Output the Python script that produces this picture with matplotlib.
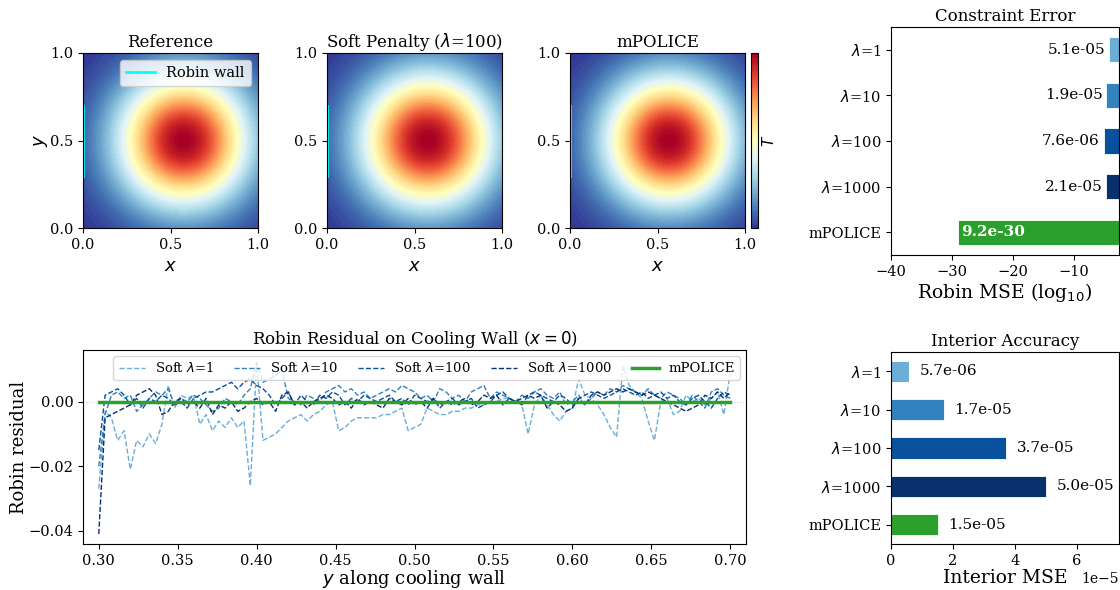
import numpy as np
import matplotlib
matplotlib.use("Agg")
import matplotlib.pyplot as plt

plt.rcParams['font.family'] = 'serif'

# --- data ---
methods = ['$\\lambda$=1', '$\\lambda$=10', '$\\lambda$=100', '$\\lambda$=1000', 'mPOLICE']
bar_colors = ['#6baed6', '#3182bd', '#08519c', '#08306b', '#2ca02c']
robin_mse = [5.1e-05, 1.9e-05, 7.6e-06, 2.1e-05, 9.2e-30]
interior_mse = [5.7e-06, 1.7e-05, 3.7e-05, 5.0e-05, 1.5e-05]

# temperature fields (peak location / spread)
peak_x = [0.575, 0.575, 0.565]
peak_y = [0.50, 0.50, 0.50]
spread = [0.26, 0.265, 0.255]
panel_titles = ['Reference', 'Soft Penalty ($\\lambda$=100)', 'mPOLICE']

# residual along the cooling wall, y in [0.3, 0.7]
y_wall = np.linspace(0.3, 0.7, 101)
res_l1 = [-0.027, -0.003, -0.005, -0.012, -0.009, -0.021, -0.012, -0.014, -0.010, -0.013,
          -0.007, 0.005, -0.002, 0.002, 0.001, 0.002, -0.007, -0.004, -0.009, -0.006,
          -0.008, -0.005, -0.008, -0.006, -0.026, 0.012, -0.012, -0.011, -0.010, -0.008,
          -0.006, -0.005, -0.004, -0.006, -0.004, -0.003, -0.001, 0.000, -0.009, -0.008,
          -0.006, -0.005, -0.005, -0.005, -0.005, -0.004, -0.004, -0.003, -0.002, -0.009,
          -0.008, -0.007, -0.002, -0.003, -0.004, -0.004, -0.003, -0.003, -0.002, -0.002,
          -0.001, -0.001, 0.000, 0.000, 0.001, 0.001, 0.000, -0.001, -0.010, -0.001,
          0.002, -0.001, -0.004, -0.006, -0.003, -0.002, 0.007, 0.002, 0.001, -0.001,
          -0.004, -0.008, -0.011, 0.011, 0.005, 0.003, 0.001, -0.006, -0.012, 0.000,
          0.001, -0.004, -0.003, 0.002, 0.000, 0.001, -0.001, 0.001, 0.003, -0.004,
          0.009]
res_l10 = [-0.020, -0.004, 0.002, 0.003, 0.001, 0.002, -0.003, -0.001, 0.001, 0.003,
           0.002, 0.004, -0.001, 0.001, 0.000, 0.002, 0.001, -0.001, -0.003, -0.002,
           0.001, 0.000, -0.001, 0.002, 0.004, 0.012, 0.006, 0.007, 0.008, 0.010,
           0.001, 0.000, -0.001, 0.002, 0.001, 0.000, 0.003, 0.004, 0.005, 0.003,
           0.004, 0.002, 0.003, 0.001, 0.002, 0.003, 0.004, 0.003, 0.005, 0.004,
           0.003, 0.001, 0.002, 0.000, 0.004, 0.003, 0.001, 0.002, 0.000, 0.003,
           0.004, 0.005, 0.001, 0.003, 0.002, 0.001, 0.000, 0.002, 0.001, 0.003,
           0.004, 0.002, 0.001, 0.003, -0.001, 0.000, 0.002, -0.001, 0.001, 0.003,
           0.002, 0.004, 0.003, 0.005, 0.004, 0.003, 0.002, 0.004, 0.002, 0.001,
           0.003, 0.002, 0.001, -0.001, 0.002, 0.000, -0.002, 0.003, 0.004, 0.002,
           0.001]
res_l100 = [-0.015, 0.002, 0.003, 0.004, 0.002, -0.001, 0.001, -0.002, 0.001, 0.000,
            0.002, 0.001, -0.001, 0.000, -0.002, 0.001, 0.002, 0.003, 0.003, 0.004,
            0.005, 0.006, 0.004, 0.006, 0.007, 0.005, 0.004, 0.002, -0.001, 0.001,
            0.003, -0.001, 0.002, 0.000, -0.001, 0.002, 0.001, 0.003, 0.002, -0.001,
            0.001, 0.000, 0.002, 0.001, 0.000, 0.001, 0.002, 0.000, 0.001, -0.001,
            0.002, 0.001, 0.000, 0.001, -0.002, 0.000, 0.001, -0.001, 0.000, 0.001,
            -0.002, -0.001, 0.000, 0.002, 0.003, 0.001, 0.000, -0.001, 0.002, 0.003,
            0.002, 0.001, 0.000, 0.002, 0.001, -0.001, 0.001, 0.002, 0.003, 0.002,
            0.001, 0.002, 0.003, 0.004, 0.003, 0.002, 0.003, 0.001, 0.002, 0.003,
            0.001, 0.002, 0.000, -0.001, 0.001, 0.002, 0.000, -0.002, 0.001, 0.003,
            0.002]
res_l1000 = [-0.041, -0.005, -0.004, -0.003, -0.002, -0.001, 0.002, 0.003, 0.004, 0.002,
             -0.004, -0.003, 0.000, 0.001, -0.001, 0.000, -0.002, 0.001, -0.004, -0.001,
             -0.002, 0.000, -0.003, -0.002, 0.000, 0.001, -0.001, 0.000, -0.003, 0.002,
             0.003, -0.001, 0.000, -0.002, 0.000, 0.001, 0.002, 0.001, -0.001, 0.000,
             -0.002, 0.001, -0.001, 0.000, -0.001, -0.002, 0.001, 0.000, -0.001, 0.001,
             -0.001, 0.000, -0.002, 0.001, -0.001, 0.000, -0.001, 0.000, 0.001, -0.001,
             0.000, 0.002, 0.001, 0.002, -0.001, 0.001, 0.000, 0.001, 0.002, 0.001,
             0.002, -0.002, 0.000, -0.001, -0.003, -0.002, 0.001, -0.001, 0.002, 0.003,
             0.002, 0.003, 0.004, 0.003, 0.004, 0.003, 0.002, 0.003, 0.002, 0.001,
             0.000, -0.001, -0.002, -0.003, -0.002, -0.001, 0.002, 0.001, 0.003, 0.001,
             0.003]
res_police = [0.0] * len(y_wall)
soft_series = [res_l1, res_l10, res_l100, res_l1000]
soft_labels = ['Soft $\\lambda$=1', 'Soft $\\lambda$=10', 'Soft $\\lambda$=100', 'Soft $\\lambda$=1000']

W, H = 1120, 590
fig = plt.figure(figsize=(W / 100, H / 100), dpi=100)

def box(l, t, r, b):
    return [l / W, 1 - b / H, (r - l) / W, (b - t) / H]

# --- temperature maps ---
g = np.linspace(0, 1, 200)
X, Y = np.meshgrid(g, g)
map_boxes = [box(83, 53, 258, 228), box(327, 53, 502, 228), box(570, 53, 745, 228)]
for k in range(3):
    ax = fig.add_axes(map_boxes[k])
    T = np.exp(-((X - peak_x[k]) ** 2 + (Y - peak_y[k]) ** 2) / (2 * spread[k] ** 2))
    cf = ax.contourf(X, Y, T, levels=100, cmap='RdYlBu_r')
    ax.plot([0, 0], [0.3, 0.7], color='cyan', lw=2, label='Robin wall')
    ax.set_xlim(0, 1)
    ax.set_ylim(0, 1)
    ax.set_xticks([0, 0.5, 1.0])
    ax.set_yticks([0, 0.5, 1.0])
    ax.set_title(panel_titles[k], fontsize=12, pad=4)
    ax.set_xlabel('$x$', fontsize=13)
    ax.tick_params(labelsize=10.5)
    if k == 0:
        ax.set_ylabel('$y$', fontsize=13, labelpad=0)
        ax.legend(loc='upper right', fontsize=10.5, handlelength=2)

cax = fig.add_axes(box(751, 53, 758, 228))
cb = fig.colorbar(cf, cax=cax)
cb.set_ticks([])
cb.set_label('$T$', fontsize=11, labelpad=2)

# --- constraint error ---
ypos = np.arange(len(methods))
ax = fig.add_axes(box(891, 27, 1119, 255))
logv = np.log10(robin_mse)
ax.barh(ypos, logv, height=0.55, color=bar_colors, edgecolor='white', linewidth=0.6)
for i, v in enumerate(logv):
    if i == len(methods) - 1:
        ax.text(v + 0.6, i, '%.1e' % robin_mse[i], ha='left', va='center',
                color='white', fontweight='bold', fontsize=11)
    else:
        ax.text(v - 0.6, i, '%.1e' % robin_mse[i], ha='right', va='center', fontsize=11)
ax.set_yticks(ypos)
ax.set_yticklabels(methods)
ax.invert_yaxis()
ax.set_xlim(-40, -2.6)
ax.set_xticks([-40, -30, -20, -10])
ax.tick_params(labelsize=10.5)
ax.set_title('Constraint Error', fontsize=12, pad=4)
ax.set_xlabel('Robin MSE (log$_{10}$)', fontsize=13.5, labelpad=2)

# --- residual on the wall ---
ax = fig.add_axes(box(83, 350, 746, 544))
ax.axhline(0, color='lightgray', lw=0.8, ls=':')
for s, lab, c in zip(soft_series, soft_labels, bar_colors[:4]):
    ax.plot(y_wall, s, ls='--', lw=1.0, color=c, label=lab)
ax.plot(y_wall, res_police, color='#2ca02c', lw=2.5, label='mPOLICE')
ax.set_xlim(0.29, 0.71)
ax.set_ylim(-0.0441, 0.016)
ax.set_yticks([-0.04, -0.02, 0.0])
ax.tick_params(labelsize=10.5)
ax.set_title('Robin Residual on Cooling Wall ($x=0$)', fontsize=12, pad=4)
ax.set_xlabel('$y$ along cooling wall', fontsize=13, labelpad=0)
ax.set_ylabel('Robin residual', fontsize=13, labelpad=0)
ax.legend(loc='upper right', ncol=5, fontsize=9.5, handlelength=2.0, columnspacing=1.5,
          handletextpad=0.75, borderaxespad=0.45)

# --- interior accuracy ---
ax = fig.add_axes(box(891, 352, 1119, 544))
ax.barh(ypos, interior_mse, height=0.55, color=bar_colors, edgecolor='white', linewidth=0.6)
for i, v in enumerate(interior_mse):
    ax.text(v + 0.35e-5, i, '%.1e' % v, ha='left', va='center', fontsize=11)
ax.set_yticks(ypos)
ax.set_yticklabels(methods)
ax.invert_yaxis()
ax.set_xlim(0, 7.35e-5)
ax.set_xticks([0, 2e-5, 4e-5, 6e-5])
ax.tick_params(labelsize=10.5)
ax.set_title('Interior Accuracy', fontsize=12, pad=4)
ax.set_xlabel('Interior MSE', fontsize=13.5, labelpad=1)

fig.savefig('out.png', dpi=100)
